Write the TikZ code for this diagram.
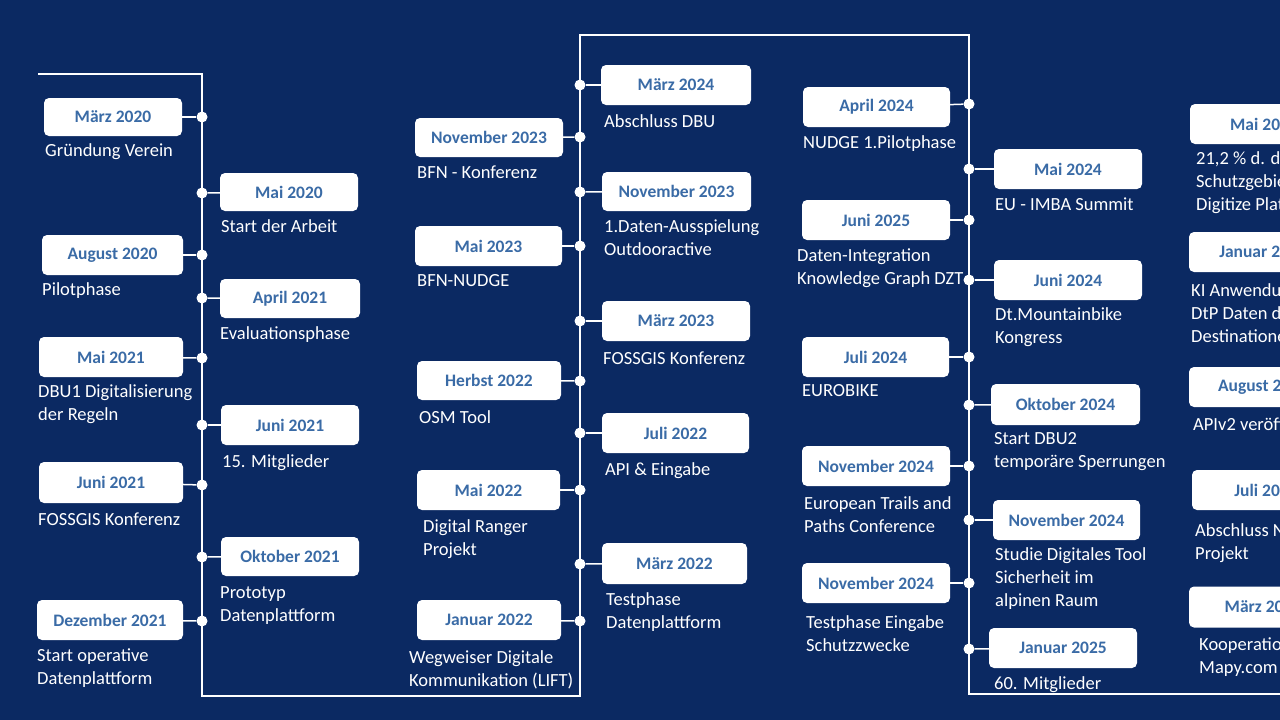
\documentclass[tikz,border=0pt]{standalone}
\usepackage{fontspec}
\setmainfont{Carlito}
\definecolor{bg}{HTML}{0B2962}
\definecolor{dt}{HTML}{3A6BA6}
\tikzset{
 box/.style={draw=none,fill=white,rounded corners=5pt,inner sep=0pt,text=dt,font=\fontsize{17.5}{20}\selectfont\bfseries},
 dot/.style={circle,fill=white,minimum size=11pt,inner sep=0pt},
 lbl/.style={anchor=north west,text=white,align=left,inner sep=0pt,font=\fontsize{18.5}{23}\selectfont},
 spine/.style={white,line width=2pt},
 conn/.style={white,line width=1.5pt}
}
% \bx{name}{xl}{xr}{yt}{yb}{date}{spinex}{doty}
\newcommand\bx[8]{%
 \node[box,minimum width={#3-#2},minimum height={#5-#4}] (#1) at ({(#2+#3)/2},{(#4+#5)/2}) {#6};
 \node[dot] (#1d) at (#7,#8) {};
 \draw[conn] (#1) -- (#1d);}
\newcommand\lb[4]{\node[lbl] (#1) at (#2,{#3-7}) {#4};}
\begin{document}
\begin{tikzpicture}[x=1pt,y=-1pt]
\fill[bg] (0,0) rectangle (1280,720);
\useasboundingbox (0,0) rectangle (1280,720);
\clip (0,0) rectangle (1280,720);
\coordinate (s0) at (38,74);
\coordinate (s1) at (202,74);
\coordinate (s2) at (202,696);
\coordinate (s3) at (580,696);
\coordinate (s4) at (580,35);
\coordinate (s5) at (969,35);
\coordinate (s6) at (969,694);
\coordinate (s7) at (1290,694);
\draw[spine] (s0)--(s1)--(s2)--(s3)--(s4)--(s5)--(s6)--(s7);
% column 1
\bx{a1}{44}{182}{98}{136}{März 2020}{202}{117} \lb{a1l}{45}{150}{Gründung Verein}
\bx{a2}{220}{358}{173}{211}{Mai 2020}{202}{193} \lb{a2l}{221}{226}{Start der Arbeit}
\bx{a3}{42}{183}{235}{275}{August 2020}{202}{255} \lb{a3l}{42}{289}{Pilotphase}
\bx{a4}{220}{360}{279}{318}{April 2021}{202}{298} \lb{a4l}{220}{333}{Evaluationsphase}
\bx{a5}{39}{183}{337}{377}{Mai 2021}{202}{358} \lb{a5l}{38}{391}{DBU1 Digitalisierung\\der Regeln}
\bx{a6}{221}{359}{405}{445}{Juni 2021}{202}{425} \lb{a6l}{222}{461}{15. Mitglieder}
\bx{a7}{39}{183}{462}{503}{Juni 2021}{202}{485} \lb{a7l}{38}{520}{FOSSGIS Konferenz}
\bx{a8}{221}{359}{537}{576}{Oktober 2021}{202}{557} \lb{a8l}{220}{593}{Prototyp\\Datenplattform}
\bx{a9}{37}{183}{600}{640}{Dezember 2021}{202}{621} \lb{a9l}{37}{656}{Start operative\\Datenplattform}
% column 2
\bx{b1}{601}{751}{65}{105}{März 2024}{580}{85} \lb{b1l}{604}{121}{Abschluss DBU}
\bx{b2}{415}{563}{118}{157}{November 2023}{580}{137} \lb{b2l}{417}{173}{BFN - Konferenz}
\bx{b3}{602}{751}{172}{211}{November 2023}{580}{192} \lb{b3l}{604}{226}{1.Daten-Ausspielung\\Outdooractive}
\bx{b4}{415}{562}{226}{266}{Mai 2023}{580}{246} \lb{b4l}{417}{281}{BFN-NUDGE}
\bx{b5}{602}{750}{301}{341}{März 2023}{580}{321} \lb{b5l}{603}{359}{FOSSGIS Konferenz}
\bx{b6}{417}{561}{361}{400}{Herbst 2022}{580}{381} \lb{b6l}{419}{417}{OSM Tool}
\bx{b7}{602}{749}{413}{453}{Juli 2022}{580}{433} \lb{b7l}{605}{469}{API \& Eingabe}
\bx{b8}{417}{560}{470}{510}{Mai 2022}{580}{490} \lb{b8l}{423}{526}{Digital Ranger\\Projekt}
\bx{b9}{602}{747}{543}{584}{März 2022}{580}{564} \lb{b9l}{606}{599}{Testphase\\Datenplattform}
\bx{b10}{417}{561}{600}{640}{Januar 2022}{580}{621} \lb{b10l}{409}{657}{Wegweiser Digitale\\Kommunikation (LIFT)}
% column 3
\bx{c1}{803}{950}{87}{127}{April 2024}{969}{104} \lb{c1l}{803}{142}{NUDGE 1.Pilotphase}
\bx{c2}{994}{1142}{149}{189}{Mai 2024}{969}{169} \lb{c2l}{995}{205}{EU - IMBA Summit}
\bx{c3}{802}{950}{200}{240}{Juni 2025}{969}{220} \lb{c3l}{797}{256}{Daten-Integration\\Knowledge Graph DZT}
\bx{c4}{994}{1142}{260}{300}{Juni 2024}{969}{280} \lb{c4l}{995}{314}{Dt.Mountainbike\\Kongress}
\bx{c5}{802}{949}{337}{377}{Juli 2024}{969}{357} \lb{c5l}{802}{391}{EUROBIKE}
\bx{c6}{991}{1140}{384}{425}{Oktober 2024}{969}{405} \lb{c6l}{994}{439}{Start DBU2\\temporäre Sperrungen}
\bx{c7}{802}{950}{446}{486}{November 2024}{969}{466} \lb{c7l}{804}{503}{European Trails and\\Paths Conference}
\bx{c8}{993}{1140}{500}{540}{November 2024}{969}{520} \lb{c8l}{995}{554}{Studie Digitales Tool\\Sicherheit im\\alpinen Raum}
\bx{c9}{802}{950}{563}{603}{November 2024}{969}{583} \lb{c9l}{806}{622}{Testphase Eingabe\\Schutzzwecke}
\bx{c10}{989}{1137}{628}{668}{Januar 2025}{969}{649} \lb{c10l}{994}{683}{60. Mitglieder}
% column 4 (cut off)
\node[box,minimum width=148pt,minimum height=40pt] (d1) at (1264,124) {Mai 2025}; \lb{d1l}{1196}{158}{21,2 \% d. deutschen\\Schutzgebiete in\\Digitize Plattform}
\node[box,minimum width=148pt,minimum height=40pt] (d2) at (1263,252) {Januar 2025}; \lb{d2l}{1191}{290}{KI Anwendung\\DtP Daten der\\Destinationen}
\node[box,minimum width=148pt,minimum height=40pt] (d3) at (1263,387) {August 2025}; \lb{d3l}{1193}{424}{APIv2 veröffentlicht}
\node[box,minimum width=148pt,minimum height=40pt] (d4) at (1266,490) {Juli 2025}; \lb{d4l}{1195}{530}{Abschluss NUDGE\\Projekt}
\node[box,minimum width=148pt,minimum height=41pt] (d5) at (1263,607) {März 2025}; \lb{d5l}{1199}{645}{Kooperation\\Mapy.com}
\end{tikzpicture}
\end{document}
